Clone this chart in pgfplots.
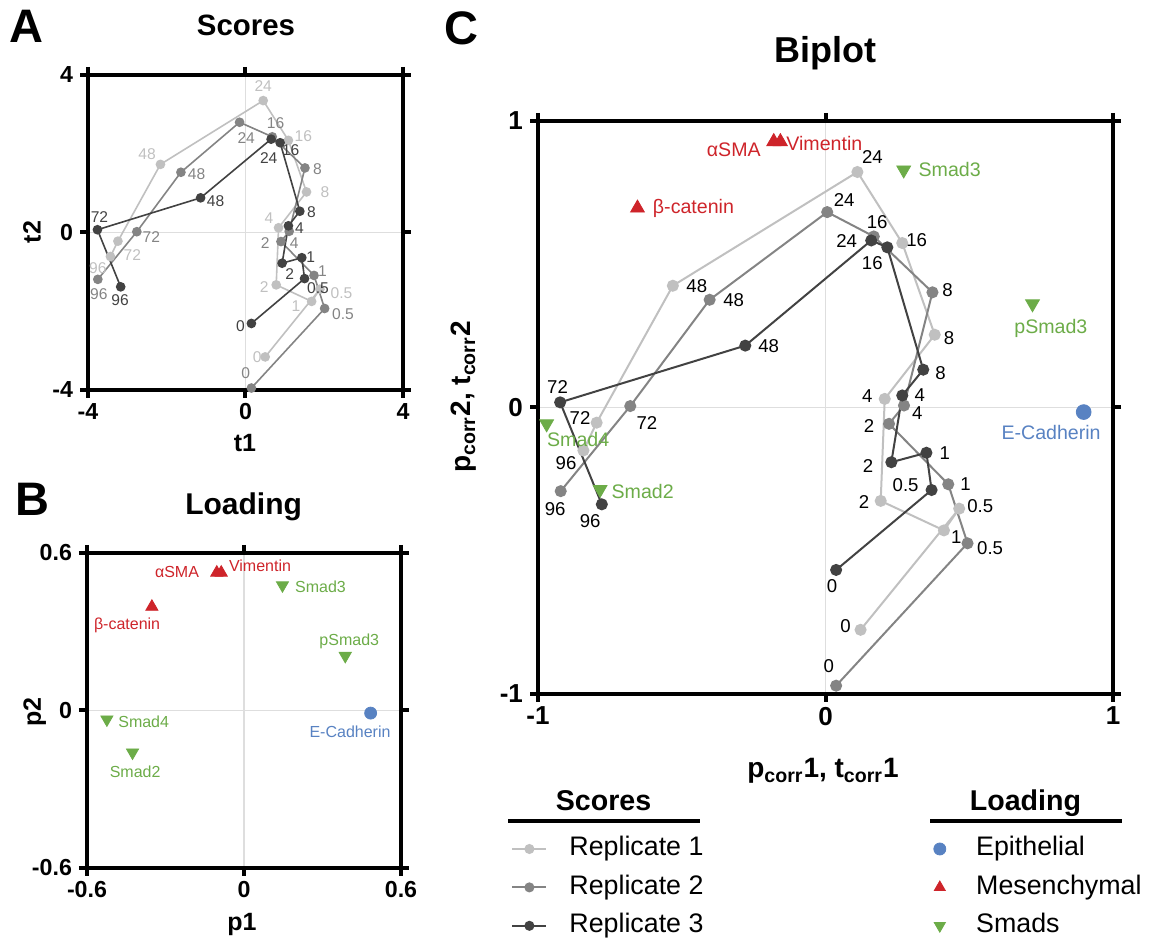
\documentclass[border=0pt]{standalone}
\usepackage{fontspec}
\setmainfont{Liberation Sans}
\usepackage{pgfplots}
\pgfplotsset{compat=1.18}
\definecolor{rA}{RGB}{192,192,192}
\definecolor{rB}{RGB}{132,132,132}
\definecolor{rC}{RGB}{66,66,66}
\definecolor{mred}{RGB}{206,36,42}
\definecolor{sgreen}{RGB}{108,172,72}
\definecolor{eblue}{RGB}{88,130,194}
\definecolor{gridc}{RGB}{222,222,222}
\pgfplotsset{
  frm/.style={scale only axis, clip=false, axis line style={line width=2pt, line cap=rect},
    tick align=outside, major tick length=4pt, tick style={line width=2pt, black},
    grid=major, grid style={gridc, line width=0.6pt}},
  labs/.style={point meta=explicit symbolic, nodes near coords,
    visualization depends on={value \thisrow{dx}\as\labdx},
    visualization depends on={value \thisrow{dy}\as\labdy},
    every node near coord/.append style={anchor=center, inner sep=0pt, xshift=\labdx pt, yshift=\labdy pt}},
}
\begin{document}
\begin{tikzpicture}
\path[use as bounding box] (0,0) rectangle (576.5pt,471pt);

% ---------------- Panel A ----------------
\begin{axis}[frm, at={(44pt,276pt)}, anchor=south west, width=157.5pt, height=157.5pt,
  xmin=-4, xmax=4, ymin=-4, ymax=4, xtick={-4,0,4}, ytick={-4,0,4},
  xticklabels={-4,0,4}, yticklabels={-4,0,4},
  xticklabel style={yshift=1pt},
  tick label style={font=\bfseries\fontsize{11.6}{12}\selectfont}]
\addplot[rA, line width=0.8pt, mark=*, mark size=2pt, mark options={solid,fill=rA,draw=rA}, labs,
  nodes near coords style={font=\fontsize{7.8}{9}\selectfont, text=rA}] table[x=x,y=y,meta=l]{
x y l dx dy
0.50 -3.16 0 -4 0
1.89 -1.44 0.5 10.8 -2
1.68 -1.75 1 -7.8 -2.2
0.78 -1.33 2 -6 -1.3
0.84 0.12 4 -4.8 5
1.55 1.03 8 9.2 0
1.09 2.34 16 7.5 2
0.45 3.35 24 0 7.2
-2.16 1.73 48 -6.7 5
-3.24 -0.22 72 7.2 -7
-3.43 -0.61 96 -6.3 -5.8
};
\addplot[rB, line width=0.8pt, mark=*, mark size=2pt, mark options={solid,fill=rB,draw=rB}, labs,
  nodes near coords style={font=\fontsize{7.8}{9}\selectfont, text=rB}] table[x=x,y=y,meta=l]{
x y l dx dy
0.15 -3.95 0 -2.8 7.5
2.01 -1.93 0.5 9.2 -2.8
1.74 -1.09 1 4.2 2.2
0.90 -0.23 2 -7.8 -0.8
1.11 0.03 4 2.5 -6
1.51 1.64 8 6.3 -0.8
0.68 2.43 16 1.7 6.7
-0.15 2.80 24 3.3 -7.8
-1.64 1.53 48 7.8 -0.8
-2.76 0.02 72 7.3 -2.5
-3.75 -1.19 96 0.5 -7.2
};
\addplot[rC, line width=0.8pt, mark=*, mark size=2pt, mark options={solid,fill=rC,draw=rC}, labs,
  nodes near coords style={font=\fontsize{7.8}{9}\selectfont, text=rC}] table[x=x,y=y,meta=l]{
x y l dx dy
0.15 -2.31 0 -5.5 -1.3
1.50 -1.17 0.5 6.7 -5
1.43 -0.64 1 4.5 0.3
0.93 -0.78 2 3.8 -5.3
1.09 0.17 4 5.5 -1.2
1.38 0.54 8 5.8 -0.5
0.88 2.28 16 5.3 -3.7
0.65 2.37 24 -1.2 -9.2
-1.14 0.88 48 7.5 -1.7
-3.76 0.07 72 1 6.5
-3.17 -1.38 96 -0.3 -6.7
};
\end{axis}

% ---------------- Panel B ----------------
\begin{axis}[frm, at={(43.5pt,37pt)}, anchor=south west, width=157pt, height=157.5pt,
  xmin=-0.6, xmax=0.6, ymin=-0.6, ymax=0.6, xtick={-0.6,0,0.6}, ytick={-0.6,0,0.6},
  xticklabels={-0.6,0,0.6}, yticklabels={-0.6,0,0.6},
  xticklabel style={yshift=1pt},
  tick label style={font=\bfseries\fontsize{11.6}{12}\selectfont}]
\addplot[only marks, mark=*, mark size=3pt, mark options={fill=eblue,draw=eblue}, labs,
  nodes near coords style={font=\fontsize{8}{9}\selectfont, text=eblue}] table[x=x,y=y,meta=l]{
x y l dx dy
0.484 -0.010 E-Cadherin -10.3 -9.4
};
\addplot[only marks, mark=triangle*, mark size=3.5pt, mark options={fill=mred,draw=mred}, labs,
  nodes near coords style={font=\fontsize{8}{9}\selectfont, text=mred}] table[x=x,y=y,meta=l]{
x y l dx dy
-0.104 0.525 αSMA -19.9 0.3
-0.087 0.525 Vimentin 19.4 3.3
-0.352 0.395 β-catenin -12.4 -9.1
};
\addplot[only marks, mark=triangle*, mark size=3.5pt, mark options={rotate=180,fill=sgreen,draw=sgreen}, labs,
  nodes near coords style={font=\fontsize{8}{9}\selectfont, text=sgreen}] table[x=x,y=y,meta=l]{
x y l dx dy
0.147 0.477 Smad3 19 -0.8
0.387 0.208 pSmad3 2 7.1
-0.524 -0.034 Smad4 18.4 -1.3
-0.426 -0.160 Smad2 1.3 -9.4
};
\end{axis}

% ---------------- Panel C ----------------
\begin{axis}[frm, at={(269pt,124pt)}, anchor=south west, width=287.5pt, height=286.5pt,
  xmin=-1, xmax=1, ymin=-1, ymax=1, xtick={-1,0,1}, ytick={-1,0,1},
  xticklabels={-1,0,1}, yticklabels={-1,0,1},
  xticklabel style={yshift=1pt},
  tick label style={font=\bfseries\fontsize{13}{14}\selectfont}]
\addplot[rA, line width=1pt, mark=*, mark size=2.5pt, mark options={solid,fill=rA,draw=rA}, labs,
  nodes near coords style={font=\fontsize{9.3}{11}\selectfont, text=black}] table[x=x,y=y,meta=l]{
x y l dx dy
0.122 -0.776 0 -7.5 2.0
0.465 -0.353 0.5 10.5 1.3
0.412 -0.429 1 6.2 -3.2
0.192 -0.326 2 -8.3 -0.5
0.206 0.030 4 -8.7 1.3
0.380 0.254 8 7.2 -1.7
0.267 0.574 16 7.2 1.3
0.111 0.822 24 7.5 7.5
-0.531 0.425 48 12 -0.3
-0.796 -0.053 72 -8.3 2.5
-0.842 -0.150 96 -8.7 -6.5
};
\addplot[rB, line width=1pt, mark=*, mark size=2.5pt, mark options={solid,fill=rB,draw=rB}, labs,
  nodes near coords style={font=\fontsize{9.3}{11}\selectfont, text=black}] table[x=x,y=y,meta=l]{
x y l dx dy
0.037 -0.971 0 -3.7 10
0.494 -0.474 0.5 11.3 -2.2
0.427 -0.268 1 8.7 0
0.221 -0.057 2 -10 -1.2
0.273 0.007 4 6.7 -3.7
0.372 0.402 8 7.5 1
0.168 0.597 16 1.7 7
0.006 0.682 24 8.5 6
-0.403 0.376 48 12 0
-0.679 0.005 72 8.3 -8.3
-0.921 -0.292 96 -2.8 -9.2
};
\addplot[rC, line width=1pt, mark=*, mark size=2.5pt, mark options={solid,fill=rC,draw=rC}, labs,
  nodes near coords style={font=\fontsize{9.3}{11}\selectfont, text=black}] table[x=x,y=y,meta=l]{
x y l dx dy
0.037 -0.567 0 -2 -8
0.369 -0.288 0.5 -13 2.3
0.351 -0.158 1 9.2 -0.3
0.229 -0.191 2 -11.7 -2
0.267 0.042 4 8.8 0
0.340 0.132 8 8.7 -1.7
0.215 0.559 16 -7.5 -7.8
0.159 0.583 24 -12.3 -0.5
-0.279 0.216 48 11.7 0
-0.923 0.018 72 -1.3 7.5
-0.778 -0.338 96 -5.8 -8.3
};
\addplot[only marks, mark=*, mark size=3.7pt, mark options={fill=eblue,draw=eblue}, labs,
  nodes near coords style={font=\fontsize{9.8}{11}\selectfont, text=eblue}] table[x=x,y=y,meta=l]{
x y l dx dy
0.898 -0.016 E-Cadherin -16.3 -10.3
};
\addplot[only marks, mark=triangle*, mark size=4pt, mark options={fill=mred,draw=mred}, labs,
  nodes near coords style={font=\fontsize{9.8}{11}\selectfont, text=mred}] table[x=x,y=y,meta=l]{
x y l dx dy
-0.180 0.928 αSMA -20 -4.2
-0.157 0.928 Vimentin 22 -0.7
-0.654 0.696 β-catenin 28 0
};
\addplot[only marks, mark=triangle*, mark size=4pt, mark options={rotate=180,fill=sgreen,draw=sgreen}, labs,
  nodes near coords style={font=\fontsize{9.8}{11}\selectfont, text=sgreen}] table[x=x,y=y,meta=l]{
x y l dx dy
0.272 0.829 Smad3 23 0
0.720 0.362 pSmad3 9.2 -12.2
-0.970 -0.057 Smad4 15.8 -7.8
-0.784 -0.286 Smad2 21.3 -0.8
};
\end{axis}

% ---------------- Legends ----------------
\begin{axis}[hide axis, scale only axis, width=10pt, height=10pt, xmin=0, xmax=1, ymin=0, ymax=1,
  at={(255.5pt,54.2pt)}, anchor=north west,
  legend style={at={(0,1)}, anchor=north west, draw=none, fill=none, inner sep=0pt, row sep=4.2pt,
    font=\fontsize{13.4}{16}\selectfont, nodes={inner sep=1pt, text height=10pt, text depth=3pt},
    /tikz/every odd column/.append style={column sep=10pt}},
  legend cell align=left,
  legend image code/.code={\draw[mark repeat=2,mark phase=2,#1] plot coordinates {(0pt,0pt) (8.5pt,0pt) (17pt,0pt)};}]
\addlegendimage{rA, line width=1pt, mark=*, mark size=2pt, mark options={solid,fill=rA,draw=rA}}
\addlegendentry{Replicate 1}
\addlegendimage{rB, line width=1pt, mark=*, mark size=2pt, mark options={solid,fill=rB,draw=rB}}
\addlegendentry{Replicate 2}
\addlegendimage{rC, line width=1pt, mark=*, mark size=2pt, mark options={solid,fill=rC,draw=rC}}
\addlegendentry{Replicate 3}
\end{axis}

\begin{axis}[hide axis, scale only axis, width=10pt, height=10pt, xmin=0, xmax=1, ymin=0, ymax=1,
  at={(463.5pt,54.2pt)}, anchor=north west,
  legend style={at={(0,1)}, anchor=north west, draw=none, fill=none, inner sep=0pt, row sep=4.2pt,
    font=\fontsize{13.4}{16}\selectfont, nodes={inner sep=1pt, text height=10pt, text depth=3pt},
    /tikz/every odd column/.append style={column sep=11pt}},
  legend cell align=left,
  legend image code/.code={\path (0pt,0pt) (12pt,0pt); \draw[only marks,#1] plot coordinates {(6pt,0pt)};}]
\addlegendimage{mark=*, mark size=3pt, eblue, mark options={fill=eblue,draw=eblue}}
\addlegendentry{Epithelial}
\addlegendimage{mark=triangle*, mark size=3.2pt, mred, mark options={fill=mred,draw=mred}}
\addlegendentry{Mesenchymal}
\addlegendimage{mark=triangle*, mark size=3.2pt, sgreen, mark options={rotate=180,fill=sgreen,draw=sgreen}}
\addlegendentry{Smads}
\end{axis}

% ---------------- Text ----------------
\node[font=\bfseries\fontsize{23.5}{26}\selectfont, anchor=base west, inner sep=0pt] at (4.5pt,449.5pt) {A};
\node[font=\bfseries\fontsize{23.5}{26}\selectfont, anchor=base west, inner sep=0pt] at (7.5pt,213pt) {B};
\node[font=\bfseries\fontsize{23.5}{26}\selectfont, anchor=base west, inner sep=0pt] at (222pt,448.5pt) {C};
\node[font=\bfseries\fontsize{14.7}{16}\selectfont, anchor=base] at (123pt,453pt) {Scores};
\node[font=\bfseries\fontsize{15}{17}\selectfont, anchor=base] at (121.8pt,213.5pt) {Loading};
\node[font=\bfseries\fontsize{18}{20}\selectfont, anchor=base] at (412.5pt,439.5pt) {Biplot};
\node[font=\bfseries\fontsize{12.5}{14}\selectfont, anchor=base] at (122.5pt,245pt) {t1};
\node[font=\bfseries\fontsize{12.5}{14}\selectfont, rotate=90] at (16pt,355pt) {t2};
\node[font=\bfseries\fontsize{12.5}{14}\selectfont, anchor=base] at (121pt,5.5pt) {p1};
\node[font=\bfseries\fontsize{12.5}{14}\selectfont, rotate=90] at (17.4pt,115pt) {p2};
\node[font=\bfseries\fontsize{14}{16}\selectfont, anchor=base] at (411.5pt,82pt) {p\textsubscript{corr}1, t\textsubscript{corr}1};
\node[font=\bfseries\fontsize{14}{16}\selectfont, rotate=90] at (232pt,272.5pt) {p\textsubscript{corr}2, t\textsubscript{corr}2};
\node[font=\bfseries\fontsize{14.3}{16}\selectfont, anchor=base] at (301.8pt,65.7pt) {Scores};
\draw[line width=2pt] (254pt,60.7pt) -- (350pt,60.7pt);
\node[font=\bfseries\fontsize{14.3}{16}\selectfont, anchor=base] at (512.7pt,65.7pt) {Loading};
\draw[line width=2pt] (465pt,60.7pt) -- (561pt,60.7pt);
\end{tikzpicture}
\end{document}
